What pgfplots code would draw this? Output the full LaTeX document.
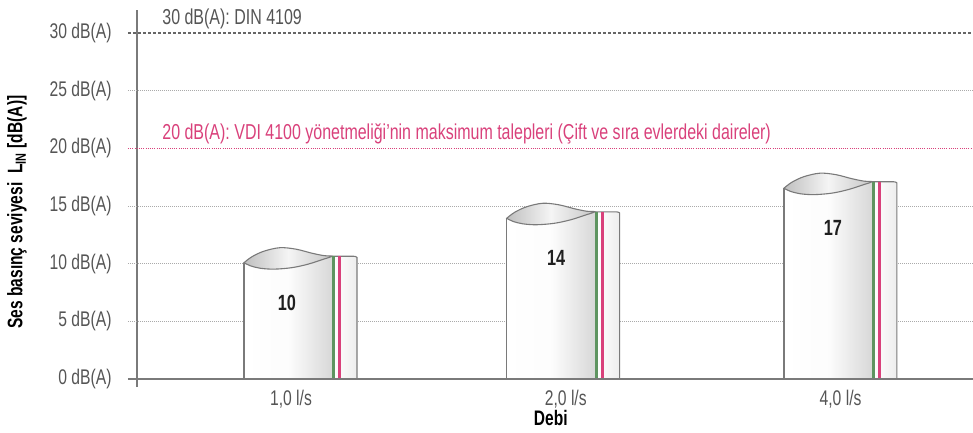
\documentclass[border=0pt]{standalone}
\usepackage{pgfplots}
\pgfplotsset{compat=1.18}
\usepackage{pgfplotstable}
\usepackage{fontspec}
\setmainfont{Liberation Sans}[FakeStretch=0.74]
\definecolor{txt}{HTML}{555555}
\definecolor{pinkl}{HTML}{D9417B}
\definecolor{greenl}{HTML}{5E9460}
\definecolor{outl}{HTML}{7A7A7A}
\definecolor{gridc}{HTML}{AAAAAA}

% bar shapes, relative to bar left edge (x) and top-left tip level (y, s=1) or ground (s=0)
\pgfplotstableread{
x y s
0 0 0
0 0 1
0.0218 -0.18 1
0.0582 -0.40 1
0.1092 -0.48 1
0.1747 -0.35 1
0.2329 -0.05 1
0.2839 0.34 1
0.3203 0.60 1
0.327 0.60 1
0.327 0 0
}\bodyshape

\pgfplotstableread{
x y
0 0
0.0291 0.52
0.0728 1.00
0.131 1.30
0.1893 1.17
0.2475 0.82
0.2912 0.61
0.3203 0.56
0.2839 0.26
0.2329 -0.13
0.1747 -0.43
0.1092 -0.56
0.0582 -0.48
0.0218 -0.26
0 0
}\topshape

\pgfplotstableread{
x y s
0.326 0 0
0.326 0.56 1
0.398 0.56 1
0.406 0.53 1
0.411 0.46 1
0.411 0 0
}\tabshape

\pgfplotstableread{
x y s
0.3203 0.56 1
0.398 0.56 1
0.406 0.53 1
0.411 0.46 1
0.411 0 0
}\taboutline

\pgfplotstableread{
x y s
0 0 0
0 0 1
}\leftedge

\pgfplotstableread{
x y s
0.3255 0 0
0.3255 0.56 1
}\greenstripe

\pgfplotstableread{
x y s
0.3475 0 0
0.3475 0.56 1
}\pinkstripe

% bar: left edge, tip level, label, label x offset
\newcommand{\drawbar}[4]{%
  \addplot[draw=none, left color=white, right color=gray!32, middle color=gray!2]
    table[x expr=\thisrow{x}+#1, y expr=\thisrow{y}+\thisrow{s}*#2] {\bodyshape} -- cycle;
  \addplot[draw=none, left color=white, right color=gray!14]
    table[x expr=\thisrow{x}+#1, y expr=\thisrow{y}+\thisrow{s}*#2] {\tabshape} -- cycle;
  \addplot[draw=outl, line width=0.55pt, smooth, tension=0.55, left color=gray!50, right color=gray!45, middle color=gray!8]
    table[x expr=\thisrow{x}+#1, y expr=\thisrow{y}+#2] {\topshape} -- cycle;
  \addplot[draw=outl, line width=0.55pt]
    table[x expr=\thisrow{x}+#1, y expr=\thisrow{y}+\thisrow{s}*#2] {\leftedge};
  \addplot[draw=outl, line width=0.55pt]
    table[x expr=\thisrow{x}+#1, y expr=\thisrow{y}+\thisrow{s}*#2] {\taboutline};
  \addplot[draw=greenl, line width=1.5pt]
    table[x expr=\thisrow{x}+#1, y expr=\thisrow{y}+\thisrow{s}*#2] {\greenstripe};
  \addplot[draw=pinkl, line width=1.5pt]
    table[x expr=\thisrow{x}+#1, y expr=\thisrow{y}+\thisrow{s}*#2] {\pinkstripe};
  \node[font=\fontsize{11}{13}\selectfont\bfseries, text=black!88] at (axis cs:#1+#4,#2-3.47) {#3};
}

\begin{document}
\begin{tikzpicture}
\begin{axis}[
  name=ax,
  scale only axis,
  width=418pt, height=188.5pt,
  xmin=-0.5605, xmax=2.482,
  ymin=-0.69, ymax=32,
  clip=false,
  no markers,
  axis y line*=left,
  axis x line*=bottom,
  y axis line style={draw=outl, line width=0.6pt, -},
  x axis line style={draw=none, -},
  major tick length=0pt,
  xtick={0,1,2},
  xticklabels={{1,0 l/s},{2,0 l/s},{4,0 l/s}},
  ytick={0,5,10,15,20,25,30},
  yticklabels={0 dB(A),5 dB(A),10 dB(A),15 dB(A),20 dB(A),25 dB(A),30 dB(A)},
  tick label style={font=\fontsize{10.6}{12}\selectfont, text=txt},
  yticklabel style={anchor=east, inner sep=0pt, xshift=-12.5pt},
  xticklabel style={anchor=north, inner sep=0pt, yshift=-1.5pt},
  xlabel={Debi},
  xlabel style={font=\fontsize{10.5}{12}\selectfont\bfseries, at={(rel axis cs:0.495,-0.082)}, anchor=center, inner sep=0pt},
  ylabel={Ses basınç seviyesi\ \ L\textsubscript{IN} [dB(A)]},
  ylabel style={font=\fontsize{10.5}{12}\selectfont\bfseries, at={(rel axis cs:-0.1435,0.464)}, anchor=center, inner sep=0pt, rotate=0},
]
% grid lines
\addplot[gridc, line width=0.5pt, dash pattern=on 0.5pt off 0.5pt] coordinates {(-0.5933,5) (2.482,5)};
\addplot[gridc, line width=0.5pt, dash pattern=on 0.5pt off 0.5pt] coordinates {(-0.5933,10) (2.482,10)};
\addplot[gridc, line width=0.5pt, dash pattern=on 0.5pt off 0.5pt] coordinates {(-0.5933,15) (2.482,15)};
\addplot[gridc, line width=0.5pt, dash pattern=on 0.5pt off 0.5pt] coordinates {(-0.5933,25) (2.482,25)};
\addplot[pinkl, line width=0.6pt, dash pattern=on 0.5pt off 0.6pt] coordinates {(-0.5933,20) (2.482,20)};
\addplot[black!60, line width=0.6pt, dash pattern=on 1.5pt off 1pt] coordinates {(-0.5933,30) (2.482,30)};

\drawbar{-0.171}{10.09}{10}{0.156}
\drawbar{0.785}{13.94}{14}{0.180}
\drawbar{1.794}{16.55}{17}{0.178}

\addplot[outl, line width=0.8pt] coordinates {(-0.5933,0) (2.482,0)};

\node[anchor=base west, inner sep=0pt, font=\fontsize{10.8}{12}\selectfont, text=txt] at (axis cs:-0.4695,30.7) {30 dB(A): DIN 4109};
\node[anchor=base west, inner sep=0pt, font=\fontsize{10.8}{12}\selectfont, text=pinkl] at (axis cs:-0.4695,20.75) {20 dB(A): VDI 4100 yönetmeliği’nin maksimum talepleri (Çift ve sıra evlerdeki daireler)};
\end{axis}
\pgfresetboundingbox
\path[use as bounding box] ([xshift=-68.5pt,yshift=-23pt]ax.south west) rectangle ([yshift=5pt]ax.north east);
\end{tikzpicture}
\end{document}
